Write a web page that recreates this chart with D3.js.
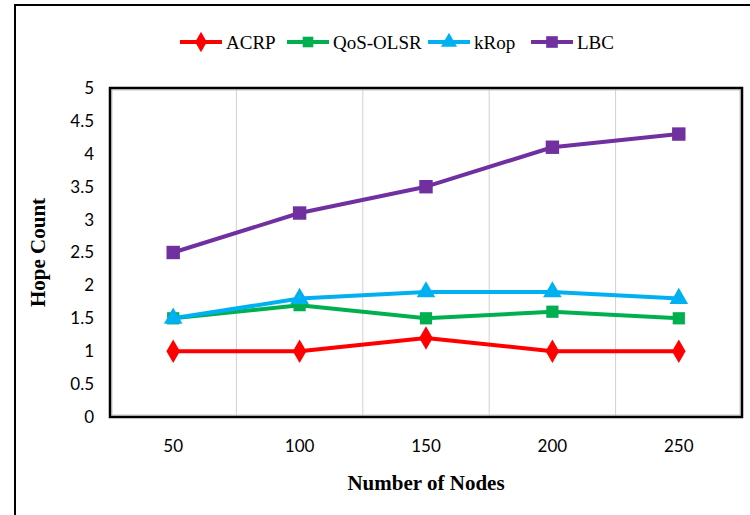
<script src="https://cdn.jsdelivr.net/npm/d3@7"></script>
<style>
  body { margin: 0; background: #fff; }
</style>
<div id="chart"></div>
<script>
// data
var nodes = ["50", "100", "150", "200", "250"];
var acrp = [1, 1, 1.2, 1, 1];
var qosOlsr = [1.5, 1.7, 1.5, 1.6, 1.5];
var krop = [1.5, 1.8, 1.9, 1.9, 1.8];
var lbc = [2.5, 3.1, 3.5, 4.1, 4.3];
var yTicks = [0, 0.5, 1, 1.5, 2, 2.5, 3, 3.5, 4, 4.5, 5];

var series = [
  {name: "ACRP", values: acrp, color: "#FF0000", shape: d3.symbolDiamond, size: 160},
  {name: "QoS-OLSR", values: qosOlsr, color: "#00B050", shape: d3.symbolSquare, size: 150},
  {name: "kRop", values: krop, color: "#00B0F0", shape: d3.symbolTriangle, size: 150},
  {name: "LBC", values: lbc, color: "#7030A0", shape: d3.symbolSquare, size: 180}
];

var W = 750, H = 515;
var margin = {top: 88, right: 8, bottom: 98, left: 110};
var width = W - margin.left - margin.right,
    height = H - margin.top - margin.bottom;

var svg = d3.select("#chart").append("svg")
    .attr("width", W).attr("height", H);

// outer chart border
svg.append("rect")
    .attr("x", 15).attr("y", 5)
    .attr("width", 760).attr("height", 540)
    .attr("fill", "none").attr("stroke", "#000").attr("stroke-width", 2);

var g = svg.append("g").attr("transform", "translate(" + margin.left + "," + margin.top + ")");

var xScale = d3.scaleBand().domain(nodes).range([0, width]).padding(0);
var yScale = d3.scaleLinear().domain([0, 5]).range([height, 0]);

// vertical gridlines between categories
g.append("g").selectAll("line")
    .data(nodes.slice(1))
    .join("line")
    .attr("x1", d => xScale(d)).attr("x2", d => xScale(d))
    .attr("y1", 0).attr("y2", height)
    .attr("stroke", "#d0d0d0").attr("stroke-width", 1);

// plot box
g.append("rect")
    .attr("x", 2).attr("y", 2)
    .attr("width", width - 4).attr("height", height - 4)
    .attr("fill", "none").attr("stroke", "#c8c8c8").attr("stroke-width", 1);
g.append("rect")
    .attr("width", width).attr("height", height)
    .attr("fill", "none").attr("stroke", "#000").attr("stroke-width", 2.5);

// y axis labels
var yAxis = g.append("g")
    .call(d3.axisLeft(yScale).tickValues(yTicks).tickSize(0).tickPadding(16).tickFormat(d3.format("")));
yAxis.select(".domain").remove();
yAxis.selectAll("text")
    .style("font-family", "Lato, 'Open Sans', sans-serif")
    .style("font-size", "17px").attr("fill", "#000");

// x axis labels
var xAxis = g.append("g").attr("transform", "translate(0," + height + ")")
    .call(d3.axisBottom(xScale).tickSize(0).tickPadding(23));
xAxis.select(".domain").remove();
xAxis.selectAll("text")
    .style("font-family", "Lato, 'Open Sans', sans-serif")
    .style("font-size", "17px").attr("fill", "#000");

var line = d3.line()
    .x((d, i) => xScale(nodes[i]) + xScale.bandwidth() / 2)
    .y(d => yScale(d));

series.forEach(function(s) {
  g.append("path")
      .datum(s.values)
      .attr("d", line)
      .attr("fill", "none")
      .attr("stroke", s.color)
      .attr("stroke-width", 4)
      .attr("stroke-linejoin", "round");
  g.append("g").selectAll("path")
      .data(s.values)
      .join("path")
      .attr("d", d3.symbol().type(s.shape).size(s.size))
      .attr("transform", (d, i) => "translate(" + (xScale(nodes[i]) + xScale.bandwidth() / 2) + "," + yScale(d) + ")")
      .attr("fill", s.color);
});

// legend
var legendX = [180, 287, 428, 531];
var legend = svg.append("g").attr("transform", "translate(0,42)");
series.forEach(function(s, i) {
  var lg = legend.append("g").attr("transform", "translate(" + legendX[i] + ",0)");
  lg.append("line").attr("x1", 0).attr("x2", 42).attr("y1", 0).attr("y2", 0)
      .attr("stroke", s.color).attr("stroke-width", 4);
  lg.append("path")
      .attr("d", d3.symbol().type(s.shape).size(s.size * 0.75))
      .attr("transform", "translate(21,0)")
      .attr("fill", s.color);
  lg.append("text")
      .attr("x", 46).attr("y", 0).attr("dy", "0.35em")
      .style("font-family", "'Liberation Serif', 'Times New Roman', serif")
      .style("font-size", "19px")
      .text(s.name);
});

// axis titles
svg.append("text")
    .attr("transform", "translate(45," + (margin.top + height / 2) + ") rotate(-90)")
    .attr("text-anchor", "middle")
    .style("font-family", "'Liberation Serif', 'Times New Roman', serif")
    .style("font-size", "21px").style("font-weight", "bold")
    .text("Hope Count");

svg.append("text")
    .attr("x", margin.left + width / 2).attr("y", 490)
    .attr("text-anchor", "middle")
    .style("font-family", "'Liberation Serif', 'Times New Roman', serif")
    .style("font-size", "21px").style("font-weight", "bold")
    .text("Number of Nodes");
</script>
